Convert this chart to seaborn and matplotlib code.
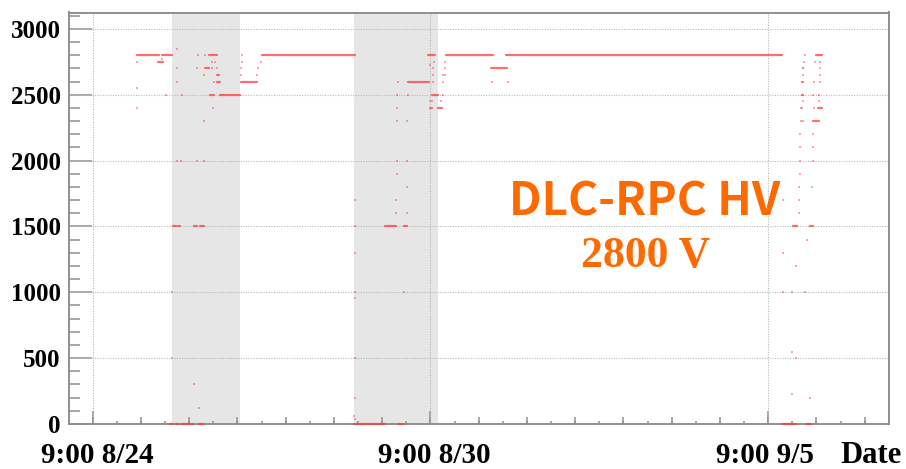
import matplotlib
matplotlib.use("Agg")
import matplotlib.pyplot as plt
import matplotlib.dates as mdates
import matplotlib.ticker as mticker
from matplotlib.transforms import ScaledTranslation
import numpy as np
import pandas as pd
import seaborn as sns

YEAR = 2021

# Constant-voltage plateaus: start, end, voltage [V]
seg_start = ["08-25 04:02", "08-25 14:26", "08-25 12:51", "08-26 15:17", "08-27 00:07",
             "08-27 09:04", "08-29 23:33", "08-30 15:38", "08-31 10:49", "08-31 17:12",
             "08-26 10:35", "08-26 08:53", "08-26 13:52", "08-26 14:08", "08-26 11:01",
             "08-30 07:57", "08-30 09:32", "08-30 08:48", "08-30 12:20",
             "08-25 17:58", "08-25 20:31", "08-25 23:05", "08-26 06:20",
             "08-29 00:25", "08-29 19:10", "09-05 14:44", "09-06 01:05",
             "08-25 19:22", "08-25 21:30", "08-26 04:12", "08-26 06:45",
             "08-29 13:37", "08-29 17:10", "08-29 21:43",
             "09-05 19:25", "09-06 02:48", "09-06 05:21", "09-06 06:20", "09-06 04:13",
             "09-05 23:16", "09-05 23:16"]
seg_end = ["08-25 13:24", "08-25 18:41", "08-25 14:59", "08-26 23:49", "08-27 06:56",
           "08-29 00:50", "08-30 08:31", "08-31 11:32", "08-31 17:30", "09-05 14:59",
           "08-26 13:52", "08-26 10:35", "08-26 14:52", "08-26 15:17", "08-26 12:43",
           "08-30 10:56", "08-30 12:20", "08-30 09:32", "08-30 13:47",
           "08-25 19:22", "08-25 21:48", "08-26 03:46", "08-26 08:02",
           "08-29 13:37", "08-29 21:43", "09-05 20:50", "09-06 03:06",
           "08-25 20:31", "08-25 22:14", "08-26 05:21", "08-26 08:28",
           "08-29 16:29", "08-29 18:19", "08-29 23:08",
           "09-05 21:23", "09-06 03:57", "09-06 07:47", "09-06 07:47", "09-06 06:46",
           "09-05 23:56", "09-05 23:56"]
seg_volt = [2800, 2800, 2750, 2500, 2600,
            2800, 2600, 2800, 2700, 2800,
            2800, 2700, 2650, 2600, 2500,
            2800, 2500, 2400, 2400,
            0, 0, 0, 0,
            0, 0, 0, 0,
            1500, 1500, 1500, 1500,
            1500, 1500, 1500,
            1500, 1500, 2800, 2400, 2300,
            2600, 2500]

# Isolated HV readings
pt_time = ["08-25 04:02", "08-25 04:02", "08-25 04:02", "08-25 14:26", "08-25 16:16",
           "08-25 20:49", "08-25 20:49", "08-25 20:49", "08-25 22:57",
           "08-26 06:02", "08-26 08:53", "08-26 11:44", "08-26 13:09",
           "08-26 05:36", "08-26 11:44", "08-26 13:52", "08-26 08:35", "08-26 12:43",
           "08-26 12:25", "08-26 08:28",
           "08-25 20:49", "08-25 22:40", "08-26 05:21", "08-26 08:35",
           "08-25 18:41", "08-25 18:41", "08-26 04:12", "08-26 06:20",
           "08-27 00:32", "08-27 00:32", "08-27 00:14", "08-27 00:07",
           "08-27 06:56", "08-27 07:37", "08-27 08:38",
           "08-29 00:50", "08-29 00:50", "08-29 00:50", "08-29 00:50", "08-29 00:50",
           "08-29 00:50", "08-29 00:50", "08-29 00:25", "08-29 00:50",
           "08-29 18:37", "08-29 18:37", "08-29 23:08", "08-29 18:37", "08-29 23:08",
           "08-29 18:37", "08-29 23:08", "08-29 18:19", "08-29 18:19", "08-29 23:08",
           "08-29 19:02", "08-29 18:52", "08-29 23:33", "08-29 21:43", "08-29 16:29",
           "08-30 10:31", "08-30 08:48", "08-30 10:13", "08-30 09:57", "08-30 09:57",
           "08-30 09:32", "08-30 08:48", "08-30 13:29", "08-30 14:13", "08-30 14:13",
           "08-30 14:28", "08-30 15:12", "08-30 15:12", "08-30 15:12",
           "08-31 11:07", "08-31 18:11",
           "09-06 00:40", "09-06 00:22", "09-05 23:56", "09-05 23:41", "09-05 23:41",
           "09-05 23:41", "09-05 23:23", "09-05 22:58", "09-05 22:58", "09-05 23:41",
           "09-05 22:32", "09-05 22:32", "09-05 22:32", "09-05 22:32", "09-05 22:14",
           "09-05 22:14", "09-05 22:14", "09-05 20:50", "09-05 19:00", "09-05 19:15",
           "09-05 20:50", "09-05 19:15", "09-05 15:25", "09-05 15:10", "09-05 15:10",
           "09-06 00:40",
           "09-06 04:56", "09-06 07:04", "09-06 07:04", "09-06 07:04", "09-06 04:30",
           "09-06 07:04", "09-06 04:13", "09-06 06:46", "09-06 06:46", "09-06 04:30",
           "09-06 03:57", "09-06 03:57", "09-06 04:13", "09-06 03:47", "09-06 01:23",
           "09-06 02:48"]
pt_volt = [2750, 2550, 2400, 2775, 2500,
           2850, 2700, 2600, 2500,
           2800, 2800, 2750, 2750,
           2700, 2700, 2700, 2650, 2600,
           2400, 2300,
           2000, 2000, 2000, 2000,
           1000, 500, 300, 120,
           2800, 2750, 2700, 2650,
           2650, 2700, 2750,
           1700, 1500, 1300, 1000, 960,
           500, 200, 60, 40,
           2400, 2300, 2300, 2000, 2000,
           1900, 1800, 1700, 1600, 1600,
           2600, 2500, 2500, 1000, 0,
           2750, 2725, 2700, 2650, 2600,
           2450, 2450, 2450, 2500, 2600,
           2650, 2650, 2700, 2750,
           2600, 2600,
           2800, 2750, 2700, 2700, 2650,
           2450, 2400, 2400, 2300, 2300,
           2200, 2100, 2000, 1900, 1800,
           1700, 1600, 1200, 1000, 550,
           500, 230, 1700, 1300, 1000,
           1000,
           2750, 2750, 2700, 2650, 2600,
           2600, 2500, 2500, 2450, 2400,
           2200, 2100, 2000, 1800, 1400,
           200]

# Shaded periods
band_start = ["08-25 18:49", "08-29 00:25"]
band_end = ["08-26 23:49", "08-30 12:05"]

# Axis range and ticks
x_range = ["08-23 22:55", "09-07 12:29"]
label_ticks = ["08-24 09:00", "08-30 09:00", "09-05 09:00"]
y_ticks = [0, 500, 1000, 1500, 2000, 2500, 3000]
y_max = 3125

title_lines = ["DLC-RPC HV", "2800 V"]


def to_dt(s):
    return pd.to_datetime(f"{YEAR}-{s}", format="%Y-%m-%d %H:%M")


RED = "#ff3c3c"
ORANGE = "#ff6a00"
GRID = "#b8b8b8"
FRAME = "#8f8f8f"

sns.set_theme(style="white")
plt.rcParams["font.family"] = ["Liberation Serif", "DejaVu Serif"]
plt.rcParams["font.weight"] = "bold"

fig = plt.figure(figsize=(9.06, 4.69), dpi=100)
ax = fig.add_axes([69 / 906, 1 - 424 / 469, 820 / 906, 411.5 / 469])

# shaded periods
for s, e in zip(band_start, band_end):
    ax.axvspan(to_dt(s), to_dt(e), color="#e6e6e6", lw=0, zorder=0)

# dotted grid at labelled positions
for t in label_ticks:
    ax.axvline(to_dt(t), color=GRID, lw=0.8, ls=(0, (1, 1.3)), zorder=1)
for v in y_ticks[1:]:
    ax.axhline(v, color=GRID, lw=0.8, ls=(0, (1, 1.3)), zorder=1)

# plateaus
n = len(seg_volt)
seg_df = pd.DataFrame({
    "time": [to_dt(s) for s in seg_start] + [to_dt(e) for e in seg_end],
    "volt": seg_volt + seg_volt,
    "seg": list(range(n)) * 2,
})
sns.lineplot(data=seg_df, x="time", y="volt", units="seg", estimator=None,
             color=RED, lw=1.6, alpha=0.75, legend=False, ax=ax,
             clip_on=False, zorder=3)

# isolated readings
pt_df = pd.DataFrame({"time": [to_dt(t) for t in pt_time], "volt": pt_volt})
sns.scatterplot(data=pt_df, x="time", y="volt", marker="s", s=3.5, color=RED,
                alpha=0.45, linewidth=0, legend=False, ax=ax, clip_on=False, zorder=3)

# axes limits
lo, hi = [mdates.date2num(to_dt(s)) for s in x_range]
ax.set_xlim(lo, hi)
ax.set_ylim(0, y_max)

# x ticks: labelled every 6 days, medium every 6/7 day, short in between
base = mdates.date2num(to_dt(label_ticks[0]))
step = 6 / 7
k = np.arange(np.ceil((lo - base) / step), np.floor((hi - base) / step) + 1)
med_nums = base + k * step
k2 = np.arange(np.ceil((lo - base) / (step / 2)), np.floor((hi - base) / (step / 2)) + 1)
minor_nums = base + k2 * step / 2
major_nums = [mdates.date2num(to_dt(t)) for t in label_ticks]


def fmt(v, pos):
    d = mdates.num2date(v)
    return f"{d.hour}:{d.minute:02d} {d.month}/{d.day}"


ax.xaxis.set_major_locator(mticker.FixedLocator(major_nums))
ax.xaxis.set_minor_locator(mticker.FixedLocator(minor_nums))
ax.xaxis.set_major_formatter(mticker.FuncFormatter(fmt))
ax.tick_params(axis="x", which="major", direction="in", length=9.7, width=1.1,
               color=FRAME, labelsize=21, pad=13, bottom=True, top=False)
ax.tick_params(axis="x", which="minor", direction="in", length=2.5, width=1.1,
               color=FRAME, bottom=True, top=False)

sec = ax.secondary_xaxis("bottom")
sec.xaxis.set_major_locator(mticker.FixedLocator(med_nums))
sec.xaxis.set_minor_locator(mticker.NullLocator())
sec.tick_params(axis="x", direction="in", length=5, width=1.1, color=FRAME,
                labelbottom=False)
sec.spines["bottom"].set_visible(False)

# y ticks
ax.yaxis.set_major_locator(mticker.FixedLocator(y_ticks))
ax.yaxis.set_minor_locator(mticker.MultipleLocator(100))
ax.tick_params(axis="y", which="major", direction="in", length=16.5, width=1.1,
               color=FRAME, labelsize=18, pad=6, left=True, right=False)
ax.tick_params(axis="y", which="minor", direction="in", length=8, width=1.1,
               color=FRAME, left=True, right=False)

ax.set_xlabel("")
ax.set_ylabel("")

for sp in ax.spines.values():
    sp.set_visible(True)
    sp.set_color(FRAME)
    sp.set_linewidth(1.4)

for lbl in ax.get_xticklabels() + ax.get_yticklabels():
    lbl.set_fontweight("bold")
    lbl.set_color("black")

# date labels start a fixed distance left of their tick
shift = ScaledTranslation(-52 / 100, 0, fig.dpi_scale_trans)
for lbl in ax.xaxis.get_majorticklabels():
    lbl.set_horizontalalignment("left")
    lbl.set_transform(lbl.get_transform() + shift)

fig.text(902 / 906, 1 - 463 / 469, "Date", ha="right", va="baseline",
         fontsize=22, fontweight="bold", color="black")

fig.text(645 / 906, 1 - 203 / 469, title_lines[0], ha="center", va="center",
         fontsize=33, fontweight="bold", color=ORANGE,
         family=["Noto Sans CJK JP", "DejaVu Sans"])
fig.text(646 / 906, 1 - 256 / 469, title_lines[1], ha="center", va="center",
         fontsize=31.5, fontweight="bold", color=ORANGE,
         family=["Liberation Serif", "DejaVu Serif"])

fig.savefig("out.png", dpi=100)
